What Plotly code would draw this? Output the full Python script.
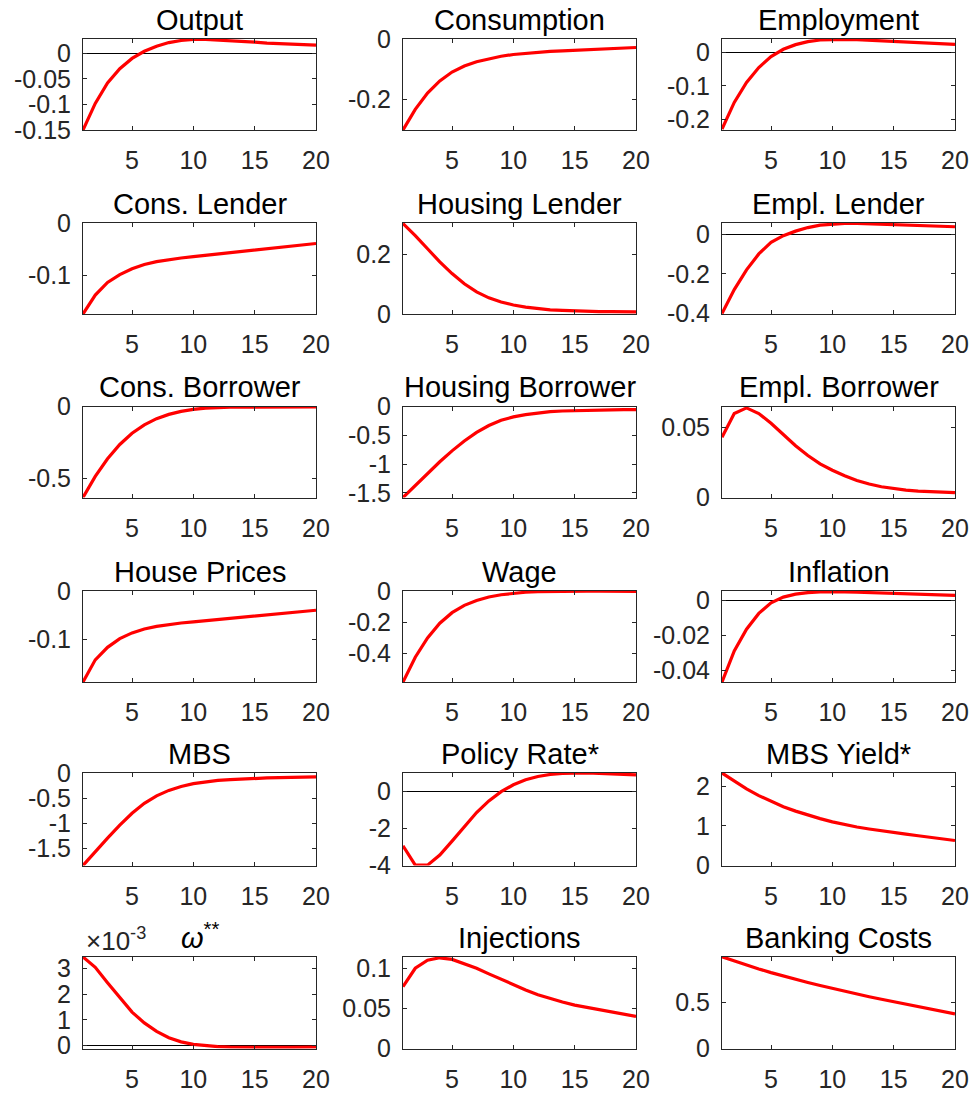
import plotly.graph_objects as go
from plotly.subplots import make_subplots

# Impulse responses over a 20-quarter horizon
horizon = list(range(1, 21))

output = [-0.150, -0.098, -0.058, -0.030, -0.010, 0.004, 0.014, 0.021, 0.025, 0.027,
          0.027, 0.026, 0.025, 0.023, 0.022, 0.020, 0.019, 0.018, 0.017, 0.016]
consumption = [-0.300, -0.232, -0.178, -0.138, -0.109, -0.089, -0.075, -0.065, -0.057, -0.051,
               -0.047, -0.044, -0.041, -0.039, -0.037, -0.035, -0.033, -0.031, -0.030, -0.028]
employment = [-0.230, -0.150, -0.090, -0.045, -0.012, 0.010, 0.024, 0.033, 0.038, 0.040,
              0.040, 0.039, 0.037, 0.035, 0.033, 0.031, 0.030, 0.028, 0.027, 0.025]
cons_lender = [-0.173, -0.137, -0.113, -0.098, -0.087, -0.079, -0.0735, -0.0695, -0.0665, -0.064,
               -0.0615, -0.059, -0.0565, -0.054, -0.0515, -0.049, -0.0465, -0.044, -0.0415, -0.039]
housing_lender = [0.302, 0.262, 0.218, 0.174, 0.135, 0.101, 0.074, 0.054, 0.040, 0.030,
                  0.023, 0.018, 0.014, 0.012, 0.010, 0.009, 0.008, 0.008, 0.007, 0.007]
empl_lender = [-0.400, -0.280, -0.180, -0.100, -0.042, -0.008, 0.015, 0.033, 0.045, 0.051,
               0.054, 0.054, 0.052, 0.050, 0.048, 0.046, 0.043, 0.041, 0.039, 0.037]
cons_borrower = [-0.635, -0.488, -0.365, -0.265, -0.187, -0.128, -0.085, -0.055, -0.034, -0.020,
                 -0.012, -0.007, -0.005, -0.004, -0.003, -0.003, -0.003, -0.003, -0.003, -0.003]
housing_borrower = [-1.58, -1.37, -1.16, -0.96, -0.77, -0.60, -0.45, -0.33, -0.24, -0.18,
                    -0.14, -0.11, -0.09, -0.078, -0.070, -0.064, -0.060, -0.057, -0.055, -0.053]
empl_borrower = [0.0430, 0.0600, 0.0640, 0.0600, 0.0530, 0.0450, 0.0370, 0.0300, 0.0240, 0.0195,
                 0.0155, 0.0122, 0.0096, 0.0077, 0.0063, 0.0053, 0.0046, 0.0041, 0.0038, 0.0035]
house_prices = [-0.189, -0.143, -0.117, -0.099, -0.087, -0.079, -0.0735, -0.0695, -0.0665, -0.064,
                -0.0616, -0.0592, -0.0568, -0.0544, -0.052, -0.0496, -0.0472, -0.0448, -0.0424, -0.040]
wage = [-0.585, -0.425, -0.300, -0.205, -0.137, -0.090, -0.058, -0.036, -0.021, -0.011,
        -0.005, -0.001, 0.001, 0.002, 0.002, 0.002, 0.002, 0.001, 0.001, 0.001]
inflation = [-0.0467, -0.0290, -0.0165, -0.0075, -0.0015, 0.0018, 0.0035, 0.0044, 0.0048, 0.0049,
             0.0048, 0.0046, 0.0044, 0.0041, 0.0039, 0.0036, 0.0034, 0.0032, 0.0030, 0.0028]
mbs = [-1.85, -1.57, -1.30, -1.04, -0.80, -0.60, -0.45, -0.34, -0.26, -0.205,
       -0.165, -0.14, -0.122, -0.108, -0.098, -0.090, -0.083, -0.077, -0.072, -0.068]
policy_rate = [-2.95, -4.00, -4.00, -3.45, -2.70, -1.90, -1.15, -0.52, -0.02, 0.35,
               0.62, 0.80, 0.91, 0.97, 0.99, 0.99, 0.97, 0.95, 0.92, 0.89]
mbs_yield = [2.33, 2.12, 1.93, 1.76, 1.61, 1.48, 1.37, 1.27, 1.18, 1.10,
             1.03, 0.97, 0.92, 0.87, 0.83, 0.79, 0.75, 0.71, 0.67, 0.63]
omega = [3.45e-3, 3.05e-3, 2.45e-3, 1.85e-3, 1.30e-3, 0.88e-3, 0.55e-3, 0.30e-3, 0.14e-3, 0.04e-3,
         -0.02e-3, -0.05e-3, -0.07e-3, -0.08e-3, -0.085e-3, -0.085e-3, -0.08e-3, -0.075e-3, -0.07e-3, -0.065e-3]
injections = [0.077, 0.100, 0.110, 0.113, 0.111, 0.106, 0.100, 0.093, 0.086, 0.079,
              0.073, 0.067, 0.062, 0.058, 0.054, 0.051, 0.048, 0.045, 0.042, 0.040]
banking_costs = [1.000, 0.954, 0.910, 0.868, 0.828, 0.790, 0.754, 0.720, 0.687, 0.655,
                 0.624, 0.594, 0.565, 0.537, 0.509, 0.482, 0.455, 0.429, 0.403, 0.378]

x_ticks = [5, 10, 15, 20]

# (title, series, y-range, y tick values, y tick labels)
panels = [
    ("Output", output, [-0.15, 0.028], [-0.15, -0.1, -0.05, 0], ["-0.15", "-0.1", "-0.05", "0"]),
    ("Consumption", consumption, [-0.30, 0.0], [-0.2, 0], ["-0.2", "0"]),
    ("Employment", employment, [-0.233, 0.041], [-0.2, -0.1, 0], ["-0.2", "-0.1", "0"]),
    ("Cons. Lender", cons_lender, [-0.173, 0.0], [-0.1, 0], ["-0.1", "0"]),
    ("Housing Lender", housing_lender, [0.0, 0.304], [0, 0.2], ["0", "0.2"]),
    ("Empl. Lender", empl_lender, [-0.403, 0.056], [-0.4, -0.2, 0], ["-0.4", "-0.2", "0"]),
    ("Cons. Borrower", cons_borrower, [-0.635, 0.0], [-0.5, 0], ["-0.5", "0"]),
    ("Housing Borrower", housing_borrower, [-1.58, 0.0], [-1.5, -1, -0.5, 0], ["-1.5", "-1", "-0.5", "0"]),
    ("Empl. Borrower", empl_borrower, [0.0, 0.065], [0, 0.05], ["0", "0.05"]),
    ("House Prices", house_prices, [-0.189, 0.0], [-0.1, 0], ["-0.1", "0"]),
    ("Wage", wage, [-0.585, 0.003], [-0.4, -0.2, 0], ["-0.4", "-0.2", "0"]),
    ("Inflation", inflation, [-0.0467, 0.0053], [-0.04, -0.02, 0], ["-0.04", "-0.02", "0"]),
    ("MBS", mbs, [-1.85, 0.01], [-1.5, -1, -0.5, 0], ["-1.5", "-1", "-0.5", "0"]),
    ("Policy Rate*", policy_rate, [-4.02, 0.99], [-4, -2, 0], ["-4", "-2", "0"]),
    ("MBS Yield*", mbs_yield, [0.0, 2.33], [0, 1, 2], ["0", "1", "2"]),
    ("<i>ω</i><sup>**</sup>", omega, [-0.12e-3, 3.45e-3], [0, 1e-3, 2e-3, 3e-3], ["0", "1", "2", "3"]),
    ("Injections", injections, [0.0, 0.114], [0, 0.05, 0.1], ["0", "0.05", "0.1"]),
    ("Banking Costs", banking_costs, [0.0, 0.998], [0, 0.5], ["0", "0.5"]),
]

W, H = 976, 1097
col_px = [(83, 316), (403, 636), (722, 955)]
row_px = [(39, 130), (223, 314), (406.5, 497.5), (591, 682), (773, 865.5), (957, 1048.5)]

FONT = "Liberation Sans, Arial, Helvetica, sans-serif"
AXIS_COLOR = "#262626"

fig = make_subplots(rows=6, cols=3)

for i, (title, series, yrange, yvals, ylabels) in enumerate(panels):
    r, c = i // 3 + 1, i % 3 + 1
    x0, x1 = col_px[c - 1]
    y0, y1 = row_px[r - 1]
    xd = [x0 / W, x1 / W]
    yd = [1 - y1 / H, 1 - y0 / H]

    fig.add_trace(
        go.Scatter(x=horizon, y=series, mode="lines",
                   line=dict(color="#ff0000", width=3.2), showlegend=False,
                   hoverinfo="skip"),
        row=r, col=c,
    )
    fig.update_xaxes(
        domain=xd, range=[1, 20], tickvals=x_ticks,
        ticks="inside", ticklen=4, tickwidth=1, tickcolor=AXIS_COLOR,
        showline=True, linecolor=AXIS_COLOR, linewidth=1, mirror="allticks",
        showgrid=False, zeroline=False, automargin=False,
        tickfont=dict(family=FONT, size=25, color=AXIS_COLOR),
        ticklabelstandoff=8,
        row=r, col=c,
    )
    fig.update_yaxes(
        domain=yd, range=yrange, tickvals=yvals, ticktext=ylabels,
        ticks="inside", ticklen=4, tickwidth=1, tickcolor=AXIS_COLOR,
        showline=True, linecolor=AXIS_COLOR, linewidth=1, mirror="allticks",
        showgrid=False, zeroline=True, zerolinecolor="#000000", zerolinewidth=1,
        automargin=False,
        tickfont=dict(family=FONT, size=25, color=AXIS_COLOR),
        ticklabelstandoff=6,
        row=r, col=c,
    )
    fig.add_annotation(
        text=title, xref="paper", yref="paper",
        x=(xd[0] + xd[1]) / 2, y=yd[1], xanchor="center", yanchor="bottom",
        yshift=1, showarrow=False,
        font=dict(family=FONT, size=29, color="#000000"),
    )

# exponent label for the omega panel
om_x0, _ = col_px[0]
om_top = row_px[5][0]
fig.add_annotation(
    text="×10<sup>-3</sup>", xref="paper", yref="paper",
    x=(om_x0 + 1) / W, y=1 - om_top / H, xanchor="left", yanchor="bottom",
    yshift=-1, showarrow=False,
    font=dict(family=FONT, size=26, color=AXIS_COLOR),
)

fig.update_layout(
    width=W, height=H,
    margin=dict(l=0, r=0, t=0, b=0, pad=0, autoexpand=False),
    paper_bgcolor="#ffffff", plot_bgcolor="#ffffff",
    font=dict(family=FONT),
)

fig.write_html("out.html")
